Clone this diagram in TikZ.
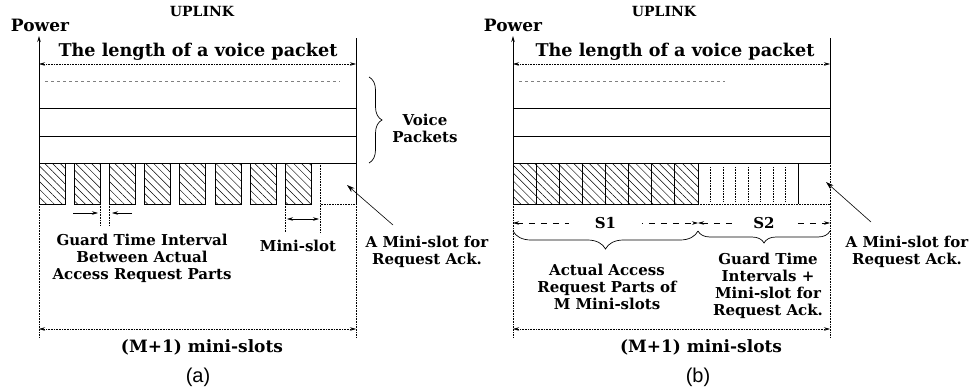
\documentclass[tikz,border=0pt]{standalone}
\usepackage{fontspec}
\setmainfont{DejaVu Serif}
\newfontfamily\capfont{Liberation Sans}
\usetikzlibrary{arrows.meta,patterns.meta,decorations.pathreplacing}
\tikzset{
  txt/.style={font=\fontsize{15}{17}\selectfont\bfseries,align=center,inner sep=0pt},
  big/.style={font=\fontsize{#1}{#1}\selectfont\bfseries},
  dimline/.style={densely dotted,line width=0.6pt,{Stealth[length=6pt,width=3.5pt]}-{Stealth[length=6pt,width=3.5pt]}},
  hatchbox/.style={draw,pattern={Lines[angle=-45,distance=5.5pt,line width=0.5pt]}},
  guide/.style={densely dotted,line width=0.6pt},
  curly/.style={decorate,decoration={brace,amplitude=#1},line width=0.7pt},
}

\begin{document}
\begin{tikzpicture}[x=1pt,y=-1pt,line width=0.9pt,>={Stealth[length=6pt,width=3.5pt]}]
\useasboundingbox (0,0) rectangle (974,391);

%% (a) access request parts with guard times
\node[txt,big=14] (upA) at (202,11) {UPLINK};
\node[txt,big=17] (powA) at (40,25) {Power};
\coordinate (oA) at (39,204);
\coordinate (eA) at (356,204);
\draw[->] (oA) -- (39,36);
\draw (eA) -- (356,38);
\draw[dimline] (39,64) -- (356,64);
\node[txt,big=17.6] (lenA) at (198,52) {The length of a voice packet};
\draw[gray,dashed,line width=0.5pt] (45,81) -- (340,81);
\foreach \y in {108,136,163} \draw (39,\y) -- (356,\y);
\foreach \i in {0,...,7} \draw[hatchbox] ({39+35.2*\i},163) rectangle ++(26,41);
\draw[guide] (320.6,163) -- (320.6,232);
\draw[guide] (285.4,204) -- (285.4,232);
\draw[guide] (320.6,204) -- (eA);
\draw[<->,line width=0.6pt] (287,219) -- (319,219);
\node[txt] (msA) at (298,246) {Mini-slot};
% guard time between parts
\draw[guide] (100.2,204) -- (100.2,225);
\draw[guide] (109.4,204) -- (109.4,225);
\draw[->,line width=0.6pt] (73,213) -- (98,213);
\draw[->,line width=0.6pt] (132,213) -- (112,213);
\node[txt] (grdA) at (142,258) {Guard Time Interval\\Between Actual\\Access Request Parts};
% voice packets
\draw[curly=13pt] (369,77) -- (369,163);
\node[txt] (vpA) at (425,128) {Voice\\Packets};
% ack slot
\node[txt] (ackA) at (427,252) {A Mini-slot for\\Request Ack.};
\coordinate (ackAfrom) at (393,225);
\coordinate (ackAto) at (347,185);
\draw[->,line width=0.6pt,>={Stealth[length=8pt,width=5pt]}] (ackAfrom) -- (ackAto);
% frame length
\draw[guide] (oA) -- (39,337);
\draw[guide] (eA) -- (356,337);
\draw[dimline] (39,329) -- (356,329);
\node[txt,big=17] (mA) at (202,347) {(M+1) mini-slots};
\node[font=\capfont\fontsize{20}{22}\selectfont,inner sep=0pt] (capA) at (198,377) {(a)};

%% (b) access request parts grouped together
\node[txt,big=14] (upB) at (664,11) {UPLINK};
\node[txt,big=17] (powB) at (513,25) {Power};
\coordinate (oB) at (513,204);
\coordinate (eB) at (830,204);
\draw[->] (oB) -- (513,36);
\draw (830,163) -- (830,38);
\draw[dimline] (513,64) -- (830,64);
\node[txt,big=17.6] (lenB) at (675,52) {The length of a voice packet};
\draw[gray,dashed,line width=0.5pt] (519,81) -- (725,81);
\foreach \y in {108,136,163} \draw (513,\y) -- (830,\y);
\foreach \i in {0,...,7} \draw[hatchbox] ({513+23.125*\i},163) rectangle ++(23.125,41);
\foreach \i in {1,...,7} \draw[guide] ({698+12.5*\i},167) -- ++(0,34);
\draw (798,163) -- (798,204);
\draw[guide] (698,204) -- (eB);
\draw[guide] (830,163) -- (eB);
% S1 and S2
\coordinate (s12) at (698,223);
\draw[dash pattern=on 6pt off 6pt,line width=0.6pt,<->] (513,223) -- (s12)
  node[midway,txt,fill=white,inner xsep=26pt,inner ysep=4pt] (s1) {S1};
\draw[dash pattern=on 6pt off 6pt,line width=0.6pt,<->] (s12) -- (830,223)
  node[midway,txt,fill=white,inner xsep=20pt,inner ysep=4pt] (s2) {S2};
\draw[curly=18pt] (698,231) -- (513,231);
\draw[curly=12pt] (830,231) -- (698,231);
\node[txt] (actB) at (607,287) {Actual Access\\Request Parts of\\M Mini-slots};
\node[txt] (grdB) at (768,285.5) {Guard Time\\Intervals +\\Mini-slot for\\Request Ack.};
% ack slot
\node[txt] (ackB) at (907,252) {A Mini-slot for\\Request Ack.};
\coordinate (ackBfrom) at (871,222);
\coordinate (ackBto) at (826,182);
\draw[->,line width=0.6pt,>={Stealth[length=8pt,width=5pt]}] (ackBfrom) -- (ackBto);
% frame length
\draw[guide] (oB) -- (513,337);
\draw[guide] (eB) -- (830,337);
\draw[dimline] (513,329) -- (830,329);
\node[txt,big=17] (mB) at (701,347) {(M+1) mini-slots};
\node[font=\capfont\fontsize{20}{22}\selectfont,inner sep=0pt] (capB) at (698,377) {(b)};
\end{tikzpicture}
\end{document}
